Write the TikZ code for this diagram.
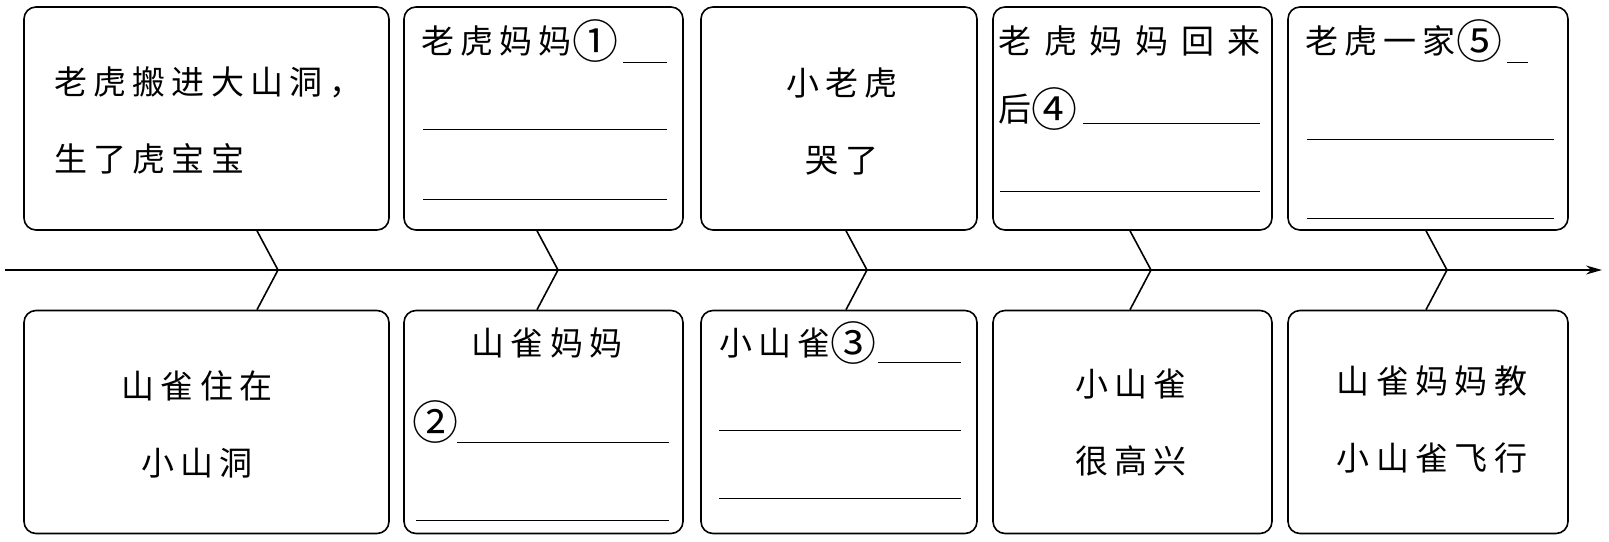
\documentclass[tikz,border=0pt]{standalone}
\usepackage{fontspec}
\newfontfamily\cjk[LetterSpace=19]{Noto Sans CJK SC}
\newfontfamily\cjkwide[LetterSpace=39]{Noto Sans CJK SC}
\newfontfamily\cnumfont{Noto Sans CJK SC}
\newcommand\cnum[1]{\raisebox{-5pt}{\cnumfont\fontsize{46}{46}\selectfont #1}}
\usetikzlibrary{arrows.meta}
\tikzset{box/.style={draw,rounded corners=12pt,line width=1.6pt,inner sep=0pt,minimum height=223pt}}
\tikzset{t/.style={inner sep=0pt,font=\cjk\fontsize{33}{77}\selectfont}}
\tikzset{blank/.style={line width=0.9pt}}

\begin{document}
\begin{tikzpicture}[x=1pt,y=-1pt]
  \useasboundingbox (0,0) rectangle (1609,541);
  % story boxes, top row
  \node[box,minimum width=365pt] (T1) at (206.5,118.5) {};
  \node[box,minimum width=279pt] (T2) at (543.5,118.5) {};
  \node[box,minimum width=276pt] (T3) at (839,118.5) {};
  \node[box,minimum width=279pt] (T4) at (1132.5,118.5) {};
  \node[box,minimum width=280pt] (T5) at (1428,118.5) {};
  % bottom row
  \node[box,minimum width=365pt] (B1) at (206.5,422) {};
  \node[box,minimum width=279pt] (B2) at (543.5,422) {};
  \node[box,minimum width=276pt] (B3) at (839,422) {};
  \node[box,minimum width=279pt] (B4) at (1132.5,422) {};
  \node[box,minimum width=280pt] (B5) at (1428,422) {};
  % texts
  \node[t,align=left,anchor=west] (x1) at (54,120) {老虎搬进大山洞，\\生了虎宝宝};
  \node[t,anchor=west] (x2) at (421,41) {老虎妈妈\cnum{①}};
  \node[t,align=center] (x3) at (842,121) {小老虎\\哭了};
  \node[t,anchor=west,font=\cjkwide\fontsize{33}{77}\selectfont] (x4) at (998,41) {老虎妈妈回来};
  \node[t,anchor=west] (x4b) at (998,109) {后\cnum{④}};
  \node[t,anchor=west] (x5) at (1305,41) {老虎一家\cnum{⑤}};
  \node[t,align=center] (y1) at (197,424) {山雀住在\\小山洞};
  \node[t] (y2) at (547,343) {山雀妈妈};
  \node[t,anchor=west] (y2b) at (412,422) {\cnum{②}};
  \node[t,anchor=west] (y3) at (719,343) {小山雀\cnum{③}};
  \node[t,align=center] (y4) at (1131,423) {小山雀\\很高兴};
  \node[t,align=center] (y5) at (1432,420) {山雀妈妈教\\小山雀飞行};
  % blanks to fill in
  \draw[blank] (623,62) -- (667,62) (423,129) -- (667,129) (423,199) -- (667,199);
  \draw[blank] (1083,123) -- (1260,123) (1000,191) -- (1260,191);
  \draw[blank] (1507,62) -- (1528,62) (1307,139) -- (1554,139) (1307,218) -- (1554,218);
  \draw[blank] (457,442) -- (669,442) (416,520) -- (669,520);
  \draw[blank] (878,362) -- (961,362) (719,430) -- (961,430) (719,498) -- (961,498);
  % time line
  \coordinate (S) at (5,270);
  \coordinate (E) at (1602,270);
  \draw[line width=1.6pt,-{Stealth[length=16pt,width=9pt]}] (S) -- (E);
  \foreach \i/\x in {1/278,2/558,3/867,4/1151,5/1447} {
    \coordinate (a\i) at (\x,270);
    \coordinate (k\i) at (\x-21,270);
    \draw[line width=1.6pt] (T\i.south -| k\i) -- (a\i) -- (B\i.north -| k\i);
  }
\end{tikzpicture}
\end{document}
